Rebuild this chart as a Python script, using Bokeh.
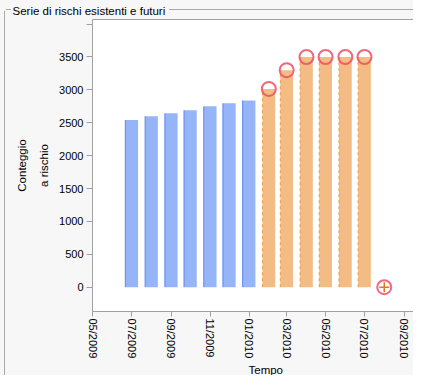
import pandas as pd
from datetime import datetime
from bokeh.plotting import figure
from bokeh.models import (Range1d, FixedTicker, DatetimeTickFormatter, LinearAxis,
                          Title, ColumnDataSource)
from bokeh.embed import file_html
from bokeh.resources import INLINE

# ---- data ----
existing_months = ["2009-07-01", "2009-08-01", "2009-09-01", "2009-10-01",
                   "2009-11-01", "2009-12-01", "2010-01-01"]
existing_counts = [2540, 2600, 2645, 2690, 2750, 2795, 2840]

future_months = ["2010-02-01", "2010-03-01", "2010-04-01", "2010-05-01",
                 "2010-06-01", "2010-07-01"]
future_counts = [3015, 3300, 3500, 3500, 3500, 3500]

end_months = ["2010-08-01"]
end_counts = [0]

x_tick_dates = ["2009-05-01", "2009-07-01", "2009-09-01", "2009-11-01", "2010-01-01",
                "2010-03-01", "2010-05-01", "2010-07-01", "2010-09-01"]
y_ticks = [0, 500, 1000, 1500, 2000, 2500, 3000, 3500, 4000]

title_text = "Serie di rischi esistenti e futuri"
x_label = "Tempo"
y_label = "Conteggio\na rischio"

# ---- styles ----
FONT = "Liberation Sans"
PANEL = "#f7f7f7"
BLUE_FILL = "#96b5f9"
BLUE_EDGE = "#5a86f0"
ORANGE_FILL = "#f2bc84"
ORANGE_EDGE = "#ee9a45"
RING = "#ee4d63"
GREY = "#a0a0a0"
BOX = "#a8a8a8"
BAR_W = pd.Timedelta(days=20)

ex = pd.DataFrame({"t": pd.to_datetime(existing_months), "v": existing_counts})
fu = pd.DataFrame({"t": pd.to_datetime(future_months), "v": future_counts})
en = pd.DataFrame({"t": pd.to_datetime(end_months), "v": end_counts})
for d in (ex, fu, en):
    d["left"] = d["t"] - BAR_W / 2
    d["zero"] = 0
rings = pd.concat([fu, en], ignore_index=True)

W, H = 413, 375
p = figure(width=W, height=H, x_axis_type="datetime",
           x_range=Range1d(start=datetime(2009, 4, 30, 12), end=datetime(2010, 9, 15, 21)),
           y_range=Range1d(-370, 4070),
           output_backend="svg", toolbar_location=None,
           min_border_left=92, min_border_top=18, min_border_right=0, min_border_bottom=61)
p.background_fill_color = "white"
p.border_fill_alpha = 0
p.outline_line_color = None
p.xgrid.visible = False
p.ygrid.visible = False

# grey panel with a group-box frame behind the (transparent) border area
g = f"linear-gradient({BOX}, {BOX})"
p.styles = {
    "background": (f"{g} 4px 11px / 1px 100% no-repeat, "
                   f"{g} 6px 9px / 5px 1px no-repeat, "
                   f"{g} 169px 9px / 100% 1px no-repeat, "
                   f"{PANEL}"),
}

p.title.text = title_text
p.title.text_font = FONT
p.title.text_font_size = "11.5px"
p.title.text_font_style = "normal"
p.title.text_color = "#000000"
p.title.align = "left"
p.title.offset = -80
p.title.standoff = 5

src_ex = ColumnDataSource(ex)
src_fu = ColumnDataSource(fu)
src_en = ColumnDataSource(en)
src_r = ColumnDataSource(rings)

p.vbar(x="t", top="v", bottom=0, width=BAR_W, source=src_ex,
       fill_color=BLUE_FILL, line_color=None)
p.segment(x0="left", y0="zero", x1="left", y1="v", source=src_ex,
          line_color=BLUE_EDGE, line_width=1)
p.vbar(x="t", top="v", bottom=0, width=BAR_W, source=src_fu,
       fill_color=ORANGE_FILL, line_color=None)
p.segment(x0="left", y0="zero", x1="left", y1="v", source=src_fu,
          line_color=ORANGE_EDGE, line_width=1, line_dash="3 3")
p.scatter(x="t", y="v", source=src_r, marker="circle", size=14,
          fill_color=None, line_color=RING, line_width=2, line_alpha=0.85)
p.scatter(x="t", y="v", source=src_en, marker="cross", size=10,
          line_color="#e0781e", line_width=1.5)

# x axis
p.xaxis.ticker = FixedTicker(ticks=[pd.Timestamp(d).value / 1e6 for d in x_tick_dates])
p.xaxis.formatter = DatetimeTickFormatter(days="%m/%Y", months="%m/%Y", years="%m/%Y")
p.xaxis.major_label_orientation = "vertical"
p.xaxis.major_label_text_font = FONT
p.xaxis.major_label_text_font_size = "11px"
p.xaxis.major_label_text_color = "#000000"
p.xaxis.major_label_standoff = 2
p.xaxis.major_tick_out = 5
p.xaxis.major_tick_in = 0
p.xaxis.minor_tick_line_color = None
p.xaxis.axis_line_color = GREY
p.xaxis.major_tick_line_color = GREY

# x axis title (placed under the tick labels, centred like the reference)
p.add_layout(Title(text=x_label, align="left", offset=156, standoff=0,
                   text_font=FONT, text_font_size="11.5px", text_font_style="normal",
                   text_color="#000000"), "below")

# y axis
p.yaxis.ticker = FixedTicker(ticks=y_ticks)
p.yaxis.major_label_overrides = {4000: ""}
p.yaxis.major_label_text_font = FONT
p.yaxis.major_label_text_font_size = "11px"
p.yaxis.major_label_text_color = "#000000"
p.yaxis.major_label_standoff = 3
p.yaxis.major_tick_out = 6
p.yaxis.major_tick_in = 0
p.yaxis.minor_tick_line_color = None
p.yaxis.axis_line_color = GREY
p.yaxis.major_tick_line_color = GREY
p.yaxis.axis_label = y_label
p.yaxis.axis_label_text_font = FONT
p.yaxis.axis_label_text_font_size = "11.5px"
p.yaxis.axis_label_text_font_style = "normal"
p.yaxis.axis_label_text_color = "#000000"
p.yaxis.axis_label_text_line_height = 1.8
p.yaxis.axis_label_standoff = 6

# top frame line
top_axis = LinearAxis(ticker=FixedTicker(ticks=[]), major_label_text_font_size="0px",
                      major_tick_out=0, major_tick_in=0, minor_tick_out=0, minor_tick_in=0,
                      axis_line_color=GREY)
p.add_layout(top_axis, "above")

open("out.html", "w").write(file_html(p, INLINE))
